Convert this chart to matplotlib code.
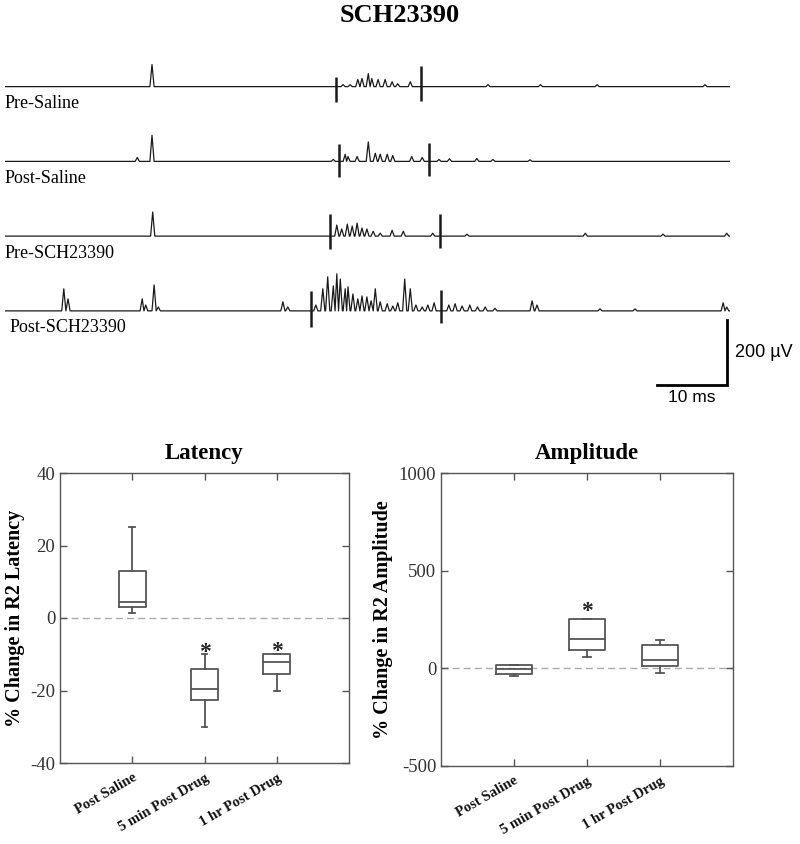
import numpy as np
import matplotlib
matplotlib.use("Agg")
import matplotlib.pyplot as plt

plt.rcParams['font.family'] = ['Liberation Serif', 'DejaVu Serif']
plt.rcParams['axes.unicode_minus'] = False

# ---- EMG traces: peaks as (time ms, amplitude uV)
trace_names = ["Pre-Saline", "Post-Saline", "Pre-SCH23390", "Post-SCH23390"]
trace_offsets = [995, 765, 535, 305]      # baseline of each trace (uV)
trace_end = 103.6                          # ms

pre_saline_peaks = [(21.0, 68), (48.3, 6), (49.3, 6), (50.4, 22), (51.0, 25),
                    (51.9, 40), (52.4, 25), (53.3, 22), (54.3, 22), (55.3, 15),
                    (56.1, 9), (57.9, 15), (69.0, 6), (76.5, 6), (84.6, 6),
                    (100.0, 6)]
post_saline_peaks = [(18.9, 12), (21.0, 80), (46.9, 6), (48.6, 22), (49.0, 15),
                     (50.3, 15), (51.9, 60), (52.9, 25), (53.6, 22), (54.6, 22),
                     (55.4, 18), (58.1, 15), (59.6, 12), (62.0, 6), (63.5, 8),
                     (67.4, 9), (69.7, 6), (75.0, 5)]
pre_sch_peaks = [(21.1, 74), (47.4, 34), (48.1, 22), (48.9, 37), (49.6, 31),
                 (50.3, 40), (51.0, 25), (51.7, 22), (52.6, 15), (53.6, 9),
                 (55.3, 18), (56.9, 15), (61.1, 9), (66.0, 6), (82.9, 9),
                 (94.0, 6), (103.1, 9)]
post_sch_peaks = [(8.4, 68), (9.0, 37), (19.6, 37), (20.1, 18), (21.3, 80),
                  (21.9, 12), (39.7, 28), (40.4, 12), (44.4, 18), (45.4, 68),
                  (46.1, 105), (46.9, 77), (47.4, 114), (47.9, 98), (48.6, 68),
                  (49.0, 74), (49.7, 52), (50.4, 37), (51.0, 46), (51.7, 43),
                  (52.3, 31), (52.9, 68), (53.6, 28), (54.6, 22), (55.4, 15),
                  (56.1, 25), (57.1, 98), (57.9, 68), (58.7, 18), (59.6, 12),
                  (60.4, 18), (61.3, 25), (63.4, 18), (64.3, 22), (65.3, 15),
                  (66.4, 18), (67.5, 12), (68.6, 12), (70.0, 8), (75.3, 31),
                  (76.0, 18), (85.0, 6), (90.0, 6), (102.6, 25), (103.1, 12)]
trace_peaks = [pre_saline_peaks, post_saline_peaks, pre_sch_peaks, post_sch_peaks]

# stimulus artifacts: (time ms, top uV, bottom uV) relative to baseline
trace_artifacts = [[(47.3, 31, -46), (59.4, 62, -43)],
                   [(47.7, 52, -49), (60.6, 58, -46)],
                   [(46.4, 68, -40), (62.1, 68, -37)],
                   [(43.7, 62, -49), (62.3, 65, -37)]]

# ---- box plot summaries (whislo, q1, med, q3, whishi)
groups = ["Post Saline", "5 min Post Drug", "1 hr Post Drug"]
lat_whislo = [1.5, -30, -20]
lat_q1 = [3, -22.5, -15.5]
lat_med = [4.5, -19.5, -12]
lat_q3 = [13, -14, -10]
lat_whishi = [25, -10, -10]
lat_stars = [None, -9.5, -9.2]

amp_whislo = [-40, 56, -22]
amp_q1 = [-30, 95, 10]
amp_med = [-5, 150, 41]
amp_q3 = [15, 252, 118]
amp_whishi = [15, 252, 147]
amp_stars = [None, 290, None]


def trace_xy(peaks, hw=0.3):
    xs, ys = [0.0], [0.0]
    tt = [p[0] for p in peaks]
    for i, (t, a) in enumerate(peaks):
        left = t - hw if i == 0 else max(t - hw, (tt[i - 1] + t) / 2)
        right = t + hw if i == len(peaks) - 1 else min(t + hw, (tt[i + 1] + t) / 2)
        if left > xs[-1]:
            xs.append(left); ys.append(0.0)
        xs.append(t); ys.append(a)
        xs.append(right); ys.append(0.0)
    xs.append(trace_end); ys.append(0.0)
    return np.array(xs), np.array(ys)


fig = plt.figure(figsize=(8, 8.44), dpi=100)

# top panel, 7 px per ms and 3.077 uV per px
ax_t = fig.add_axes([5 / 800, (844 - 410) / 844, 725 / 800, 370 / 844])
ax_t.set_xlim(0, 725 / 7)
ax_t.set_ylim(0, 370 * 3.077)
ax_t.axis('off')
trace_color = '#1a1a1a'
for name, off, pk, arts in zip(trace_names, trace_offsets, trace_peaks, trace_artifacts):
    x, y = trace_xy(pk)
    ax_t.plot(x, y + off, color=trace_color, lw=0.9)
    for t, hi, lo in arts:
        ax_t.vlines(t, off + lo, off + hi, color=trace_color, lw=1.8)
    xoff = 0.7 if name == "Post-SCH23390" else 0.0
    ax_t.text(xoff, off - 52, name, fontsize=13, va='center', ha='left')

# scale bar 10 ms / 200 uV
bar_t, bar_y = 103.1, 77
ax_t.plot([bar_t - 10, bar_t, bar_t], [bar_y, bar_y, bar_y + 200],
          color='black', lw=2, solid_joinstyle='miter', clip_on=False)
ax_t.text(bar_t + 1.2, bar_y + 100, "200 µV", family=['Liberation Sans', 'DejaVu Sans'],
          fontsize=13, va='center', ha='left')
ax_t.text(bar_t - 5, bar_y - 15, "10 ms", family=['Liberation Sans', 'DejaVu Sans'],
          fontsize=12.5, va='top', ha='center')

fig.text(0.5, 1 - 16 / 844, "SCH23390", fontsize=19, fontweight='bold',
         ha='center', va='center')


def box_panel(rect, whislo, q1, med, q3, whishi, stars, ylim, yticks, ylabel,
              title, width, capw):
    ax = fig.add_axes(rect)
    stats = []
    for i in range(len(groups)):
        stats.append(dict(whislo=whislo[i], q1=q1[i], med=med[i], q3=q3[i],
                          whishi=whishi[i], fliers=[]))
    lc = '#555555'
    ax.bxp(stats, positions=[1, 2, 3], widths=width, capwidths=capw,
           showfliers=False,
           boxprops=dict(color=lc, lw=1.3),
           whiskerprops=dict(color=lc, lw=1.3),
           capprops=dict(color=lc, lw=1.3),
           medianprops=dict(color=lc, lw=1.3))
    ax.axhline(0, color='#aaaaaa', lw=1, ls=(0, (5, 3)), zorder=0)
    for i, s in enumerate(stars):
        if s is not None:
            ax.text(i + 1, s, "*", ha='center', va='center', fontsize=17,
                    fontweight='bold', color='#222222')
    ax.set_xlim(0, 4)
    ax.set_ylim(*ylim)
    ax.set_yticks(yticks)
    ax.set_xticks([1, 2, 3])
    ax.set_xticklabels(groups, rotation=30, ha='right', rotation_mode='anchor',
                       fontsize=10.5, fontweight='bold')
    ax.tick_params(direction='in', length=5, top=True, right=True, color='#555555',
                   labelsize=13.5, labelcolor='#333333', width=1)
    ax.tick_params(axis='x', labelsize=10.5, labelcolor='#111111', pad=6)
    for sp in ax.spines.values():
        sp.set_color('#555555')
        sp.set_linewidth(1)
    ax.set_ylabel(ylabel, fontsize=14.5, fontweight='bold', labelpad=4)
    ax.set_title(title, fontsize=16.5, fontweight='bold', pad=10)
    return ax


box_panel([60 / 800, (844 - 763) / 844, 289 / 800, 290 / 844],
          lat_whislo, lat_q1, lat_med, lat_q3, lat_whishi, lat_stars,
          (-40, 40), [-40, -20, 0, 20, 40], "% Change in R2 Latency", "Latency",
          0.37, 0.08)
box_panel([441 / 800, (844 - 766) / 844, 292 / 800, 293 / 844],
          amp_whislo, amp_q1, amp_med, amp_q3, amp_whishi, amp_stars,
          (-500, 1000), [-500, 0, 500, 1000], "% Change in R2 Amplitude", "Amplitude",
          0.5, 0.1)

fig.savefig("out.png", dpi=100)
